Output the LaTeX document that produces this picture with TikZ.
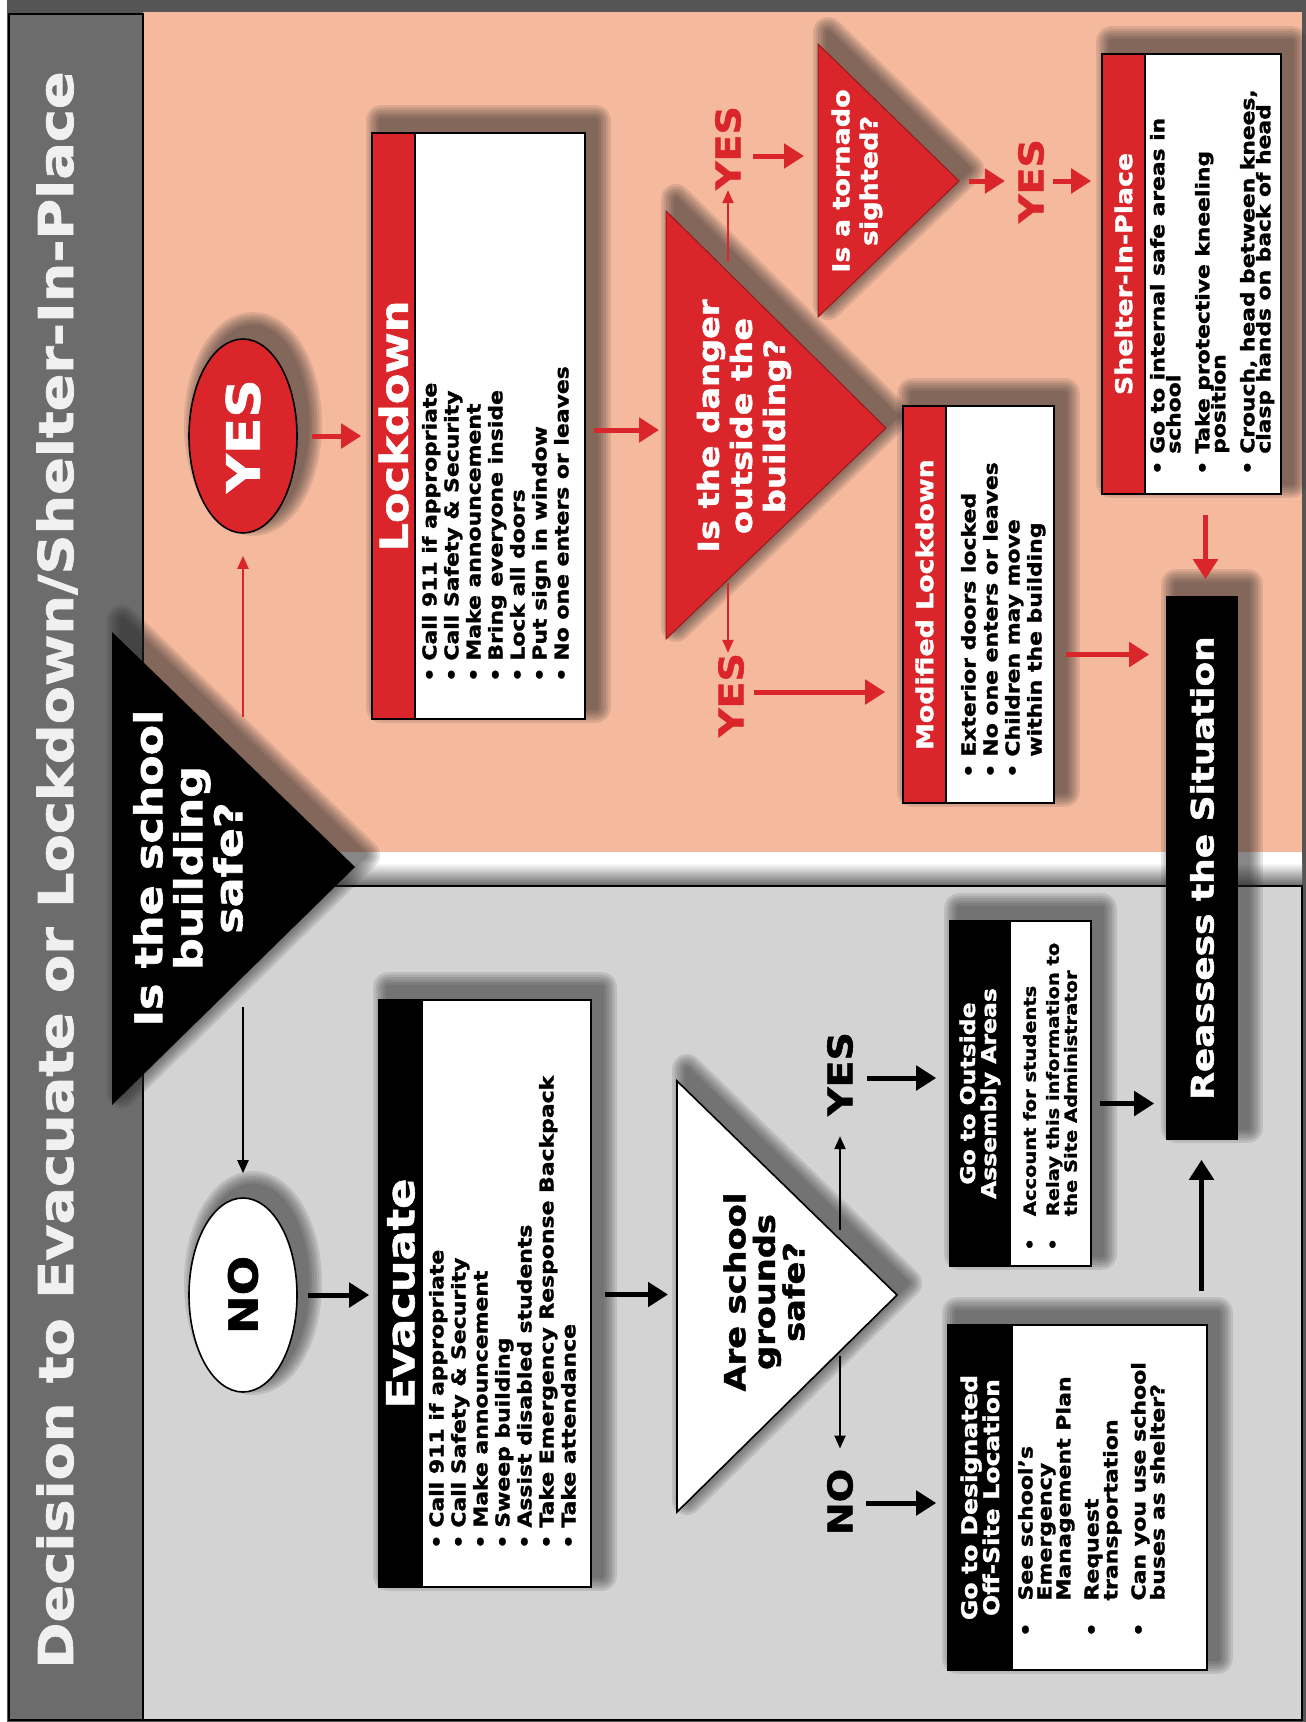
\documentclass[tikz,border=0pt]{standalone}
\usepackage{fontspec}
\setmainfont{DejaVu Sans}[FakeStretch=1.16, FakeBold=1.6]
\usetikzlibrary{calc, arrows.meta, shapes.geometric}
\pgfdeclarelayer{panels}
\pgfdeclarelayer{shadows}
\pgfsetlayers{panels,shadows,main}

\definecolor{alarm}{RGB}{218,37,42}
\definecolor{salmon}{RGB}{245,185,158}
\definecolor{panelgray}{RGB}{211,211,211}
\definecolor{bandgray}{RGB}{108,108,108}
\definecolor{framegray}{RGB}{85,85,85}
\definecolor{titlewhite}{RGB}{240,240,240}

\newcommand\sizeto[2]{\fontsize{#1}{#2}\selectfont\bfseries\lineskiplimit=-30pt\relax}
\newcommand\itm[1][7pt]{\textbullet\hspace{#1}}
\newcommand\cnt[1][7pt]{\phantom{\textbullet}\hspace{#1}}
\newcommand\softshadow[1]{\foreach \w in {30,25,20,15,10,5}{%
  \begin{scope}[transparency group, opacity=.12]
    \filldraw[black!85, line width=\w pt, line join=round] #1;
  \end{scope}}}

\tikzset{
  flowbox/.style={draw=black, line width=1.6pt, fill=white, rotate=90, inner sep=0pt},
  boxhead/.style={draw=black, line width=1.6pt, rotate=90, inner sep=0pt, text=white, align=center, anchor=north},
  bulletlist/.style={rotate=90, inner sep=0pt, anchor=north west, align=left},
  question/.style={rotate=90, inner sep=0pt, align=center},
  choice/.style={ellipse, draw=black, line width=1.6pt, rotate=90, minimum width=194pt, minimum height=108pt, inner sep=0pt},
  answer/.style={rotate=90, inner sep=0pt, font=\sizeto{34}{34}},
  bigred/.style={draw=alarm, line width=5pt, -{Triangle[length=20pt,width=24pt]}},
  bigblack/.style={draw=black, line width=5pt, -{Triangle[length=20pt,width=24pt]}},
  thinred/.style={draw=alarm, line width=2.2pt, -{Triangle[length=13pt,width=11pt]}},
  thinblack/.style={draw=black, line width=2.2pt, -{Triangle[length=13pt,width=11pt]}}
}

\begin{document}
\begin{tikzpicture}[x=1pt, y=-1pt]
\useasboundingbox (0,0) rectangle (1306,1722);

% panels %
\begin{pgfonlayer}{panels}
  \fill[white] (0,0) rectangle (1306,1722);
  \fill[framegray] (7,0) rectangle (1306,1722);
  \fill[salmon] (143,12) rectangle (1302,852);
  \fill[white] (143,852) rectangle (1302,863);
  \shade[top color=white, bottom color=black!60] (143,863) rectangle (1302,886);
  \filldraw[fill=panelgray, draw=black, line width=2pt] (143,886) rectangle (1302,1720);
  \filldraw[fill=bandgray, draw=black, line width=2.5pt] (9,14) rectangle (143,1720);
\end{pgfonlayer}

\node[rotate=90, text=titlewhite, font=\sizeto{48}{50}] (title) at (57,870) {Decision to Evacuate or Lockdown/Shelter-In-Place};

% decisions %
\coordinate (safeA) at (112,632);
\coordinate (safeB) at (112,1105);
\coordinate (safeC) at (355,867);
\coordinate (dangerA) at (666,211);
\coordinate (dangerB) at (666,639);
\coordinate (dangerC) at (886,428);
\coordinate (tornadoA) at (818,44);
\coordinate (tornadoB) at (818,317);
\coordinate (tornadoC) at (959,181);
\coordinate (groundsA) at (677,1081);
\coordinate (groundsB) at (677,1512);
\coordinate (groundsC) at (897,1295);

\fill[black] (safeA) -- (safeB) -- (safeC) -- cycle;
\filldraw[fill=alarm, draw=alarm!70!black, line width=1pt] (dangerA) -- (dangerB) -- (dangerC) -- cycle;
\filldraw[fill=alarm, draw=alarm!70!black, line width=1pt] (tornadoA) -- (tornadoB) -- (tornadoC) -- cycle;
\filldraw[fill=white, draw=black, line width=1.6pt] (groundsA) -- (groundsB) -- (groundsC) -- cycle;

\node[question, text=white, font=\sizeto{38.2}{40}] (safe) at (188,868) {Is the school\\building\\safe?};
\node[question, text=white, font=\sizeto{29}{33}] (danger) at (744,426) {Is the danger\\outside the\\building?};
\node[question, text=white, font=\sizeto{23.3}{28}] (tornado) at (857,181) {Is a tornado\\sighted?};
\node[question, font=\sizeto{29}{29.5}] (grounds) at (764,1292) {Are school\\grounds\\safe?};

\node[choice, fill=alarm, text=white, font=\sizeto{46}{46}] (yes) at (243,436) {YES};
\node[choice, fill=white, font=\sizeto{40}{40}] (no) at (243,1295) {NO};

% boxes %
\node[flowbox, minimum width=586pt, minimum height=213pt] (lock) at (478.5,426) {};
\node[boxhead, fill=alarm, minimum width=586pt, minimum height=43pt, font=\sizeto{38.5}{40}] (lockhdr) at (lock.north) {Lockdown};
\node[bulletlist, font=\sizeto{18.9}{22}] (locktxt) at ($(lockhdr.south west)+(6,-38)$)
  {\itm Call 911 if appropriate\\ \itm Call Safety \& Security\\ \itm Make announcement\\ \itm Bring everyone inside\\ \itm Lock all doors\\ \itm Put sign in window\\ \itm No one enters or leaves};

\node[flowbox, minimum width=587pt, minimum height=212pt] (evac) at (485,1293.5) {};
\node[boxhead, fill=black, minimum width=587pt, minimum height=43pt, font=\sizeto{38.5}{40}] (evachdr) at (evac.north) {Evacuate};
\node[bulletlist, font=\sizeto{18.9}{22}] (evactxt) at ($(evachdr.south west)+(6,-39)$)
  {\itm Call 911 if appropriate\\ \itm Call Safety \& Security\\ \itm Make announcement\\ \itm Sweep building\\ \itm Assist disabled students\\ \itm Take Emergency Response Backpack\\ \itm Take attendance};

\node[flowbox, minimum width=397pt, minimum height=151pt] (modlock) at (978.5,604.5) {};
\node[boxhead, fill=alarm, minimum width=397pt, minimum height=43pt, font=\sizeto{23.1}{25}] (modhdr) at (modlock.north) {Modified Lockdown};
\node[bulletlist, font=\sizeto{18.9}{22}] (modtxt) at ($(modhdr.south west)+(14,-26)$)
  {\itm Exterior doors locked\\ \itm No one enters or leaves\\ \itm Children may move\\ \cnt within the building};

\node[flowbox, minimum width=440pt, minimum height=179pt] (shelter) at (1191.5,274) {};
\node[boxhead, fill=alarm, minimum width=440pt, minimum height=43pt, font=\sizeto{23.1}{25}] (shelterhdr) at (shelter.north) {Shelter-In-Place};
\node[bulletlist, font=\sizeto{18.8}{16}] (sheltertxt) at ($(shelterhdr.south west)+(4,-20)$)
  {\itm Go to internal safe areas in\\ \cnt school\\[13pt] \itm Take protective kneeling\\ \cnt position\\[13pt] \itm Crouch, head between knees,\\ \cnt clasp hands on back of head};

\node[flowbox, minimum width=345pt, minimum height=141pt] (outside) at (1020.5,1093.5) {};
\node[boxhead, fill=black, minimum width=345pt, minimum height=60pt, font=\sizeto{20.3}{21}] (outsidehdr) at (outside.north) {Go to Outside\\Assembly Areas};
\node[bulletlist, font=\sizeto{16.8}{18}] (outsidetxt) at ($(outsidehdr.south west)+(12,-16)$)
  {\itm[22pt]Account for students\\[5pt] \itm[22pt]Relay this information to\\ \cnt[22pt]the Site Administrator};

\node[flowbox, minimum width=345pt, minimum height=259pt] (offsite) at (1077.5,1497.5) {};
\node[boxhead, fill=black, minimum width=345pt, minimum height=64pt, font=\sizeto{21.6}{22}] (offsitehdr) at (offsite.north) {Go to Designated\\Off-Site Location};
\node[bulletlist, font=\sizeto{19}{19}] (offsitetxt) at ($(offsitehdr.south west)+(5,-34)$)
  {\itm[22pt]See school's\\ \cnt[22pt]Emergency\\ \cnt[22pt]Management Plan\\[9pt] \itm[22pt]Request\\ \cnt[22pt]transportation\\[9pt] \itm[22pt]Can you use school\\ \cnt[22pt]buses as shelter?};

\node[flowbox, fill=black, minimum width=542pt, minimum height=70pt, text=white, font=\sizeto{31}{31}] (reassess) at (1202,868) {Reassess the Situation};

% answers %
\node[answer, text=alarm] (yesup) at (728,148) {YES};
\node[answer, text=alarm] (yesdown) at (731,695) {YES};
\node[answer, text=alarm] (yestor) at (1031,181) {YES};
\node[answer] (yesgr) at (840,1074) {YES};
\node[answer] (nogr) at (840,1502) {NO};

% shadows %
\begin{pgfonlayer}{shadows}
  \softshadow{($(safeA)+(10,-12)$) -- ($(safeB)+(10,-12)$) -- ($(safeC)+(10,-12)$) -- cycle}
  \softshadow{($(dangerA)+(10,-12)$) -- ($(dangerB)+(10,-12)$) -- ($(dangerC)+(10,-12)$) -- cycle}
  \softshadow{($(tornadoA)+(10,-12)$) -- ($(tornadoB)+(10,-12)$) -- ($(tornadoC)+(10,-12)$) -- cycle}
  \softshadow{($(groundsA)+(10,-12)$) -- ($(groundsB)+(10,-12)$) -- ($(groundsC)+(10,-12)$) -- cycle}
  \softshadow{($(yes.center)+(10,-12)$) ellipse [x radius=54, y radius=97]}
  \softshadow{($(no.center)+(10,-12)$) ellipse [x radius=54, y radius=97]}
  \foreach \bx in {lock, evac, modlock, shelter, outside, offsite, reassess}{
    \softshadow{($(\bx.north west)+(10,-12)$) rectangle ($(\bx.south east)+(10,-12)$)}
  }
\end{pgfonlayer}

% edges %
\coordinate (yesfoot) at (243,717);
\coordinate (nofoot) at (243,1007);
\coordinate (dupfoot) at (728,262);
\coordinate (ddownfoot) at (728,583);
\coordinate (gupfoot) at (840,1230);
\coordinate (gdownfoot) at (840,1356);
\coordinate (shdown) at ($(shelter.west)+(14,20)$);
\coordinate (offup) at ($(offsite.east)+(124,-33)$);

\draw[thinred] (yesfoot) -- ($(yes.west)+(0,22)$);
\draw[thinblack] (nofoot) -- ($(no.east)+(0,-24)$);
\draw[bigred] ($(yes.south)+(14,0)$) -- ($(yes.south -| lockhdr.north)+(-10,0)$);
\draw[bigblack] ($(no.south)+(10,0)$) -- ($(no.south -| evachdr.north)+(-9,0)$);
\draw[bigred] ($(lock.south)+(8,4)$) -- ($(lock.south -| dangerA)+(-7,4)$);
\draw[bigblack] ($(evac.south)+(13,1)$) -- ($(evac.south -| groundsA)+(-9,1)$);
\draw[thinred] (dupfoot) -- (dupfoot |- yesup.west);
\draw[thinred] (ddownfoot) -- (ddownfoot |- yesdown.east);
\draw[bigred] ($(yesup.south)+(12,8)$) -- ($(yesup.south -| tornadoA)+(-14,8)$);
\draw[bigred] ($(yesdown.south)+(10,-3)$) -- ($(yesdown.south -| modhdr.north)+(-17,-3)$);
\draw[bigred] ($(tornadoC)+(10,0)$) -- ($(yestor.north)+(-13,0)$);
\draw[bigred] ($(yestor.south)+(9,0)$) -- ($(yestor.south -| shelterhdr.north)+(-10,0)$);
\draw[bigred] ($(modlock.south)+(11,50)$) -- ($(modlock.south -| reassess.north)+(-17,50)$);
\draw[bigred] (shdown) -- ($(shdown |- reassess.east)+(0,-17)$);
\draw[thinblack] (gupfoot) -- ($(gupfoot |- yesgr.west)+(0,20)$);
\draw[thinblack] (gdownfoot) -- ($(gdownfoot |- nogr.east)+(0,-20)$);
\draw[bigblack] ($(yesgr.south)+(14,4)$) -- ($(yesgr.south -| outsidehdr.north)+(-13,4)$);
\draw[bigblack] ($(nogr.south)+(13,1)$) -- ($(nogr.south -| offsitehdr.north)+(-11,1)$);
\draw[bigblack] ($(outside.south)+(8,10)$) -- ($(outside.south -| reassess.north)+(-12,10)$);
\draw[bigblack] (offup) -- ($(offup |- reassess.west)+(0,20)$);
\end{tikzpicture}
\end{document}
